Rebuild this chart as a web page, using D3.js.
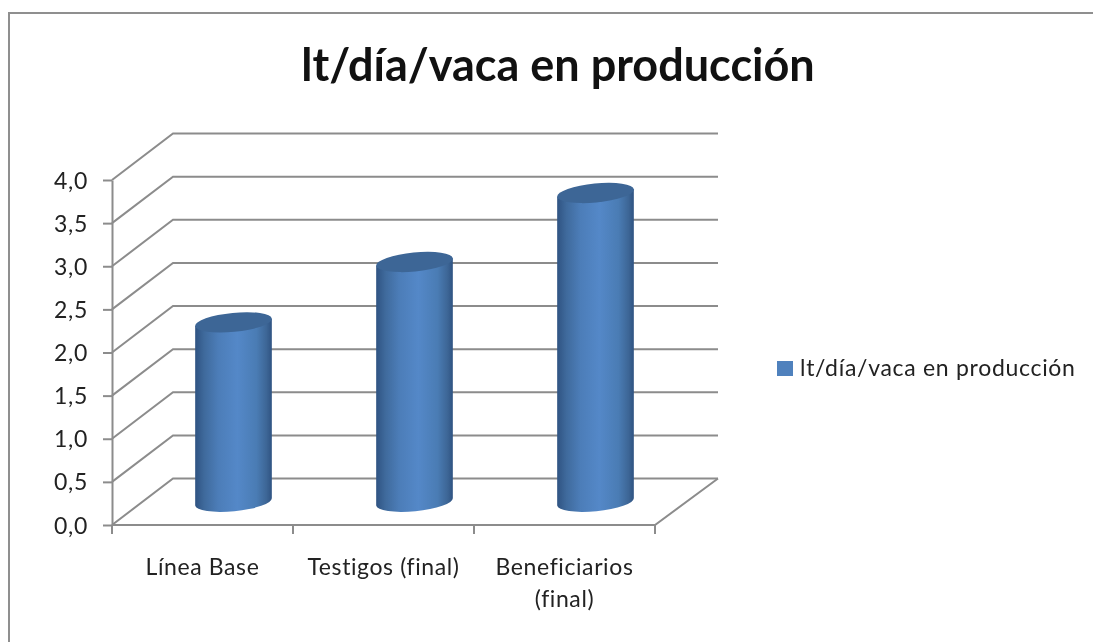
<!DOCTYPE html>
<html>
<head>
<meta charset="utf-8">
<script src="https://cdn.jsdelivr.net/npm/d3@7"></script>
<style>
  html, body { margin: 0; padding: 0; background: #fff; overflow: hidden; }
  svg { display: block; font-family: Lato, "Open Sans", sans-serif; font-variant-ligatures: none; filter: blur(0.45px); }
</style>
</head>
<body>
<script>
const titulo = "lt/día/vaca en producción";
const categorias = ["Línea Base", "Testigos (final)", "Beneficiarios (final)"];
const valores = [2.08, 2.78, 3.58];
const ticksY = [0, 0.5, 1, 1.5, 2, 2.5, 3, 3.5, 4];

const width = 1093, height = 642;
const M = {top: 180, left: 112, bottom: 525, right: 655};
const depth = {x: 61, y: -46.5};   // desplazamiento de la pared del fondo
const gridColor = "#8c8c8c";
const textColor = "#222";

const svg = d3.select("body").append("svg")
  .attr("width", width).attr("height", height);

const x = d3.scaleBand().domain(categorias).range([M.left, M.right]);
const y = d3.scaleLinear().domain([0, 4]).range([M.bottom, M.top]);
const fmt = d3.formatLocale({decimal: ",", thousands: ".", grouping: [3], currency: ["", ""]}).format(".1f");

const defs = svg.append("defs");
const grad = defs.append("linearGradient").attr("id", "cyl");
[[0, "#2f5382"], [0.12, "#3f6a9c"], [0.3, "#4c7db8"], [0.55, "#5488c8"], [0.8, "#4a7cb4"], [0.93, "#3d6696"], [1, "#2f5382"]]
  .forEach(([o, c]) => grad.append("stop").attr("offset", o).attr("stop-color", c));

// Marco: solo arriba y a la izquierda, el resto queda fuera de la captura
svg.append("path").attr("d", d3.line()([[9, height + 5], [9, 13], [width + 5, 13]]))
  .attr("fill", "none").attr("stroke", "#8f8f8f").attr("stroke-width", 2);

svg.append("text").attr("x", 558).attr("y", 81).attr("text-anchor", "middle")
  .attr("font-size", 45).attr("font-weight", 700).attr("fill", "#111").text(titulo);

// Rejilla: diagonal de la pared lateral + línea del fondo
const grid = svg.append("g").attr("fill", "none").attr("stroke", gridColor).attr("stroke-width", 2);
ticksY.forEach(t => {
  grid.append("path").attr("d", d3.line()([
    [M.left, y(t)],
    [M.left + depth.x, y(t) + depth.y],
    [M.right + depth.x + 2, y(t) + depth.y]
  ]));
});
// Suelo
grid.append("path").attr("d", d3.line()([
  [M.left, M.bottom], [M.right, M.bottom], [M.right + depth.x + 2, M.bottom + depth.y]
]));

// Ejes
const axisY = svg.append("g").attr("transform", `translate(${M.left},0)`)
  .call(d3.axisLeft(y).tickValues(ticksY).tickFormat(fmt).tickSize(9).tickSizeOuter(0));
axisY.select(".domain").attr("stroke", gridColor).attr("stroke-width", 2);
axisY.selectAll(".tick line").attr("stroke", gridColor).attr("stroke-width", 2);
axisY.selectAll(".tick text").attr("font-size", 23).attr("font-family", "Lato").attr("fill", textColor)
  .attr("letter-spacing", 0.7).attr("x", -24).attr("dy", "0.35em");

const axisX = svg.append("g");
[M.left, ...categorias.map(c => x(c) + x.bandwidth())].forEach(px => {
  axisX.append("line").attr("x1", px).attr("x2", px).attr("y1", M.bottom).attr("y2", M.bottom + 9)
    .attr("stroke", gridColor).attr("stroke-width", 2);
});

// Cilindros
const rx = 38.5, ry = 9.5, rot = -5.5;
const dxE = rx * Math.cos(rot * Math.PI / 180), dyE = rx * Math.sin(rot * Math.PI / 180);
const cylX = c => x(c) + x.bandwidth() / 2 + depth.x / 2 + 0.5;
const base = y(0) + depth.y / 2;
const cylTop = v => base - (y(0) - y(v));

const cyl = svg.append("g").selectAll("g").data(categorias.map((c, i) => ({c, v: valores[i]})))
  .join("g");
cyl.append("path")
  .attr("fill", "url(#cyl)")
  .attr("d", d => {
    const cx = cylX(d.c), t = cylTop(d.v);
    return `M${cx - dxE},${t - dyE} L${cx - dxE},${base - dyE}` +
      ` A${rx},${ry} ${rot} 0 0 ${cx + dxE},${base + dyE}` +
      ` L${cx + dxE},${t + dyE} Z`;
  });
cyl.append("ellipse")
  .attr("transform", d => `translate(${cylX(d.c)},${cylTop(d.v)}) rotate(${rot})`)
  .attr("rx", rx).attr("ry", ry).attr("fill", "#3d6696");

// Etiquetas de categoría
const lineas = {"Línea Base": ["Línea Base"], "Testigos (final)": ["Testigos (final)"], "Beneficiarios (final)": ["Beneficiarios", "(final)"]};
categorias.forEach(c => {
  lineas[c].forEach((l, i) => {
    svg.append("text").attr("x", x(c) + x.bandwidth() / 2).attr("y", 575 + i * 32)
      .attr("text-anchor", "middle").attr("font-size", 23).attr("letter-spacing", 0.6)
      .attr("fill", textColor).text(l);
  });
});

// Leyenda
svg.append("rect").attr("x", 777).attr("y", 361).attr("width", 16).attr("height", 15).attr("fill", "#4f81bd");
svg.append("text").attr("x", 800).attr("y", 376).attr("font-size", 23).attr("letter-spacing", 0.7)
  .attr("fill", textColor).text(titulo);
</script>
</body>
</html>
